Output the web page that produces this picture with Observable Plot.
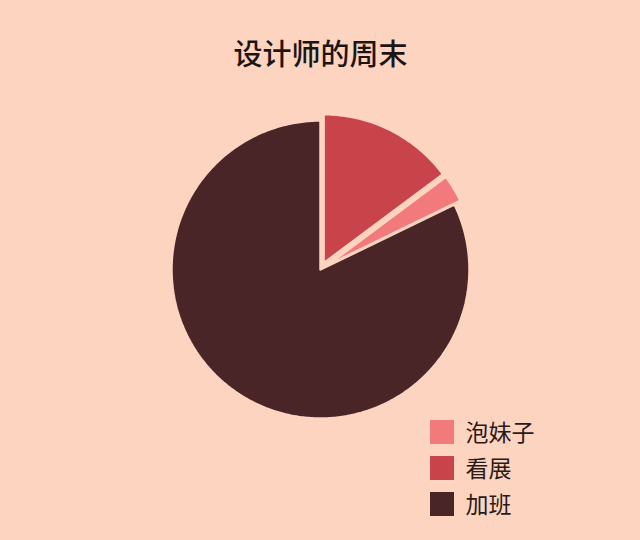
<!DOCTYPE html>
<html>
<head>
<meta charset="utf-8">
<script src="https://cdn.jsdelivr.net/npm/d3@7"></script>
<script src="https://cdn.jsdelivr.net/npm/@observablehq/plot@0.6"></script>
<style>
  html, body { margin: 0; padding: 0; background: #fcd4c0; }
  #chart svg { display: block; }
</style>
</head>
<body>
<div id="chart"></div>
<script>
// Data
const title = "设计师的周末";
const categories = ["看展", "泡妹子", "加班"];   // pie order, clockwise from 12 o'clock
const values = [14.8, 3, 82.2];
const colors = ["#c8444a", "#f27a7d", "#4a2528"];
const exploded = [true, true, false];
const legendOrder = ["泡妹子", "看展", "加班"];

// Layout (not data)
const W = 640, H = 540, bg = "#fcd4c0";
const cx = 320, cy = 269, R = 149, explode = 7;

const pie = d3.pie().sort(null).value(d => d.value)(
  categories.map((c, i) => ({ category: c, value: values[i], color: colors[i], exploded: exploded[i] }))
);

const pts = [];
pie.forEach(s => {
  const mid = (s.startAngle + s.endAngle) / 2;
  const ox = cx + (s.data.exploded ? explode * Math.sin(mid) : 0);
  const oy = cy - (s.data.exploded ? explode * Math.cos(mid) : 0);
  pts.push({ category: s.data.category, x: ox, y: oy });
  const n = Math.max(4, Math.ceil((s.endAngle - s.startAngle) * 80));
  for (let k = 0; k <= n; k++) {
    const a = s.startAngle + (s.endAngle - s.startAngle) * k / n;
    pts.push({ category: s.data.category, x: ox + R * Math.sin(a), y: oy - R * Math.cos(a) });
  }
  pts.push({ category: s.data.category, x: ox, y: oy });
});

const legend = legendOrder.map((c, i) => ({ category: c, i }));
const lx = 430, ly = 420, ls = 24, lstep = 36;

const chart = Plot.plot({
  width: W, height: H,
  margin: 0,
  style: { background: bg, fontFamily: "'Noto Sans CJK SC', sans-serif" },
  x: { domain: [0, W], range: [0, W], axis: null },
  y: { domain: [0, H], range: [0, H], axis: null },
  color: { domain: categories, range: colors },
  marks: [
    Plot.line(pts, {
      x: "x", y: "y", z: "category",
      fill: "category", stroke: bg, strokeWidth: 2.5, strokeLinejoin: "miter"
    }),
    Plot.rect(legend, {
      x1: () => lx, x2: () => lx + ls,
      y1: d => ly + d.i * lstep, y2: d => ly + d.i * lstep + ls,
      fill: "category"
    }),
    Plot.text(legend, {
      x: () => lx + 35, y: d => ly + d.i * lstep + ls / 2,
      text: "category", textAnchor: "start", fontSize: 23, fill: "#2a1a1a",
      dy: 1
    }),
    Plot.text([title], {
      x: () => W / 2, y: () => 55, text: d => d,
      fontSize: 29, fontWeight: 500, fill: "#1d1414"
    })
  ]
});
document.getElementById("chart").append(chart);
</script>
</body>
</html>
